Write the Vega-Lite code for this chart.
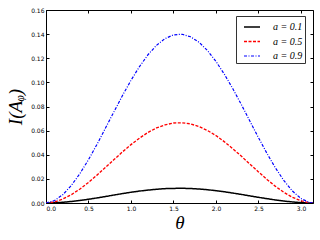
{
  "$schema": "https://vega.github.io/schema/vega-lite/v6.json",
  "width": 267,
  "height": 193,
  "autosize": {"type": "none"},
  "padding": {"left": 46, "top": 10, "right": 7, "bottom": 37},
  "background": "white",
  "config": {
    "view": {"stroke": "#000000", "strokeWidth": 1},
    "axis": {
      "grid": false,
      "domain": false,
      "tickColor": "#000000",
      "tickSize": -3,
      "tickWidth": 1,
      "labelFont": "DejaVu Sans",
      "labelFontSize": 6,
      "labelColor": "#000000",
      "titleColor": "#000000",
      "titleFont": "Liberation Serif",
      "titleFontStyle": "italic",
      "titleFontWeight": "normal"
    },
    "legend": {
      "orient": "none",
      "legendX": 190,
      "legendY": 6,
      "strokeColor": "#333333",
      "fillColor": "#ffffff",
      "padding": 2,
      "cornerRadius": 0,
      "symbolType": "stroke",
      "symbolSize": 256,
      "symbolOffset": 5,
      "labelFont": "Liberation Serif",
      "labelFontStyle": "italic",
      "labelFontSize": 10,
      "labelColor": "#000000",
      "labelOffset": 12,
      "rowPadding": 0.5
    }
  },
  "data": {
    "values": [
      {"t": 0.0, "a": "a = 0.1", "v": 0.0}, {"t": 0.1, "a": "a = 0.1", "v": 0.0002}, {"t": 0.2, "a": "a = 0.1", "v": 0.0006}, {"t": 0.3, "a": "a = 0.1", "v": 0.0013}, {"t": 0.4, "a": "a = 0.1", "v": 0.0021}, {"t": 0.5, "a": "a = 0.1", "v": 0.0031}, {"t": 0.6, "a": "a = 0.1", "v": 0.0042}, {"t": 0.7, "a": "a = 0.1", "v": 0.0054}, {"t": 0.8, "a": "a = 0.1", "v": 0.0066}, {"t": 0.9, "a": "a = 0.1", "v": 0.0078}, {"t": 1.0, "a": "a = 0.1", "v": 0.0089}, {"t": 1.1, "a": "a = 0.1", "v": 0.0099}, {"t": 1.2, "a": "a = 0.1", "v": 0.0107}, {"t": 1.3, "a": "a = 0.1", "v": 0.0114}, {"t": 1.4, "a": "a = 0.1", "v": 0.0119}, {"t": 1.5, "a": "a = 0.1", "v": 0.0121}, {"t": 1.6, "a": "a = 0.1", "v": 0.0122}, {"t": 1.7, "a": "a = 0.1", "v": 0.012}, {"t": 1.8, "a": "a = 0.1", "v": 0.0116}, {"t": 1.9, "a": "a = 0.1", "v": 0.011}, {"t": 2.0, "a": "a = 0.1", "v": 0.0102}, {"t": 2.1, "a": "a = 0.1", "v": 0.0093}, {"t": 2.2, "a": "a = 0.1", "v": 0.0082}, {"t": 2.3, "a": "a = 0.1", "v": 0.0071}, {"t": 2.4, "a": "a = 0.1", "v": 0.0059}, {"t": 2.5, "a": "a = 0.1", "v": 0.0047}, {"t": 2.6, "a": "a = 0.1", "v": 0.0036}, {"t": 2.7, "a": "a = 0.1", "v": 0.0025}, {"t": 2.8, "a": "a = 0.1", "v": 0.0016}, {"t": 2.9, "a": "a = 0.1", "v": 0.0009}, {"t": 3.0, "a": "a = 0.1", "v": 0.0003}, {"t": 3.1, "a": "a = 0.1", "v": 0.0}, {"t": 3.1416, "a": "a = 0.1", "v": 0.0},
      {"t": 0.0, "a": "a = 0.5", "v": 0.0}, {"t": 0.1, "a": "a = 0.5", "v": 0.0009}, {"t": 0.2, "a": "a = 0.5", "v": 0.0034}, {"t": 0.3, "a": "a = 0.5", "v": 0.007}, {"t": 0.4, "a": "a = 0.5", "v": 0.0116}, {"t": 0.5, "a": "a = 0.5", "v": 0.0171}, {"t": 0.6, "a": "a = 0.5", "v": 0.0231}, {"t": 0.7, "a": "a = 0.5", "v": 0.0295}, {"t": 0.8, "a": "a = 0.5", "v": 0.036}, {"t": 0.9, "a": "a = 0.5", "v": 0.0424}, {"t": 1.0, "a": "a = 0.5", "v": 0.0484}, {"t": 1.1, "a": "a = 0.5", "v": 0.0538}, {"t": 1.2, "a": "a = 0.5", "v": 0.0585}, {"t": 1.3, "a": "a = 0.5", "v": 0.0622}, {"t": 1.4, "a": "a = 0.5", "v": 0.0648}, {"t": 1.5, "a": "a = 0.5", "v": 0.0663}, {"t": 1.6, "a": "a = 0.5", "v": 0.0665}, {"t": 1.7, "a": "a = 0.5", "v": 0.0656}, {"t": 1.8, "a": "a = 0.5", "v": 0.0634}, {"t": 1.9, "a": "a = 0.5", "v": 0.0601}, {"t": 2.0, "a": "a = 0.5", "v": 0.0559}, {"t": 2.1, "a": "a = 0.5", "v": 0.0507}, {"t": 2.2, "a": "a = 0.5", "v": 0.0449}, {"t": 2.3, "a": "a = 0.5", "v": 0.0387}, {"t": 2.4, "a": "a = 0.5", "v": 0.0322}, {"t": 2.5, "a": "a = 0.5", "v": 0.0258}, {"t": 2.6, "a": "a = 0.5", "v": 0.0195}, {"t": 2.7, "a": "a = 0.5", "v": 0.0138}, {"t": 2.8, "a": "a = 0.5", "v": 0.0088}, {"t": 2.9, "a": "a = 0.5", "v": 0.0047}, {"t": 3.0, "a": "a = 0.5", "v": 0.0018}, {"t": 3.1, "a": "a = 0.5", "v": 0.0002}, {"t": 3.1416, "a": "a = 0.5", "v": 0.0},
      {"t": 0.0, "a": "a = 0.9", "v": 0.0}, {"t": 0.1, "a": "a = 0.9", "v": 0.002}, {"t": 0.2, "a": "a = 0.9", "v": 0.007}, {"t": 0.3, "a": "a = 0.9", "v": 0.0147}, {"t": 0.4, "a": "a = 0.9", "v": 0.0245}, {"t": 0.5, "a": "a = 0.9", "v": 0.0359}, {"t": 0.6, "a": "a = 0.9", "v": 0.0486}, {"t": 0.7, "a": "a = 0.9", "v": 0.0621}, {"t": 0.8, "a": "a = 0.9", "v": 0.0757}, {"t": 0.9, "a": "a = 0.9", "v": 0.0891}, {"t": 1.0, "a": "a = 0.9", "v": 0.1017}, {"t": 1.1, "a": "a = 0.9", "v": 0.1131}, {"t": 1.2, "a": "a = 0.9", "v": 0.1229}, {"t": 1.3, "a": "a = 0.9", "v": 0.1307}, {"t": 1.4, "a": "a = 0.9", "v": 0.1363}, {"t": 1.5, "a": "a = 0.9", "v": 0.1394}, {"t": 1.6, "a": "a = 0.9", "v": 0.1399}, {"t": 1.7, "a": "a = 0.9", "v": 0.1378}, {"t": 1.8, "a": "a = 0.9", "v": 0.1333}, {"t": 1.9, "a": "a = 0.9", "v": 0.1264}, {"t": 2.0, "a": "a = 0.9", "v": 0.1174}, {"t": 2.1, "a": "a = 0.9", "v": 0.1066}, {"t": 2.2, "a": "a = 0.9", "v": 0.0945}, {"t": 2.3, "a": "a = 0.9", "v": 0.0814}, {"t": 2.4, "a": "a = 0.9", "v": 0.0677}, {"t": 2.5, "a": "a = 0.9", "v": 0.0542}, {"t": 2.6, "a": "a = 0.9", "v": 0.0411}, {"t": 2.7, "a": "a = 0.9", "v": 0.029}, {"t": 2.8, "a": "a = 0.9", "v": 0.0185}, {"t": 2.9, "a": "a = 0.9", "v": 0.0099}, {"t": 3.0, "a": "a = 0.9", "v": 0.0037}, {"t": 3.1, "a": "a = 0.9", "v": 0.0004}, {"t": 3.1416, "a": "a = 0.9", "v": 0.0}
    ]
  },
  "layer": [
    {
      "mark": {"type": "line", "clip": true},
      "encoding": {
        "x": {
          "field": "t", "type": "quantitative",
          "scale": {"domain": [0, 3.1416], "nice": false, "zero": false},
          "axis": {"orient": "bottom", "values": [0, 0.5, 1, 1.5, 2, 2.5, 3], "format": ".1f", "title": "θ", "titleFontSize": 19, "labelPadding": 5, "titlePadding": 2}
        },
        "y": {
          "field": "v", "type": "quantitative",
          "scale": {"domain": [0, 0.16], "nice": false},
          "axis": {"orient": "left", "values": [0, 0.02, 0.04, 0.06, 0.08, 0.1, 0.12, 0.14, 0.16], "format": ".2f", "title": "I(Aᵩ)", "titleFontSize": 19, "labelPadding": 5, "titlePadding": 5}
        },
        "color": {
          "field": "a", "type": "nominal",
          "scale": {"domain": ["a = 0.1", "a = 0.5", "a = 0.9"], "range": ["#000000", "#ff0000", "#0000ff"]},
          "legend": {"title": null}
        },
        "strokeDash": {
          "field": "a", "type": "nominal",
          "scale": {"domain": ["a = 0.1", "a = 0.5", "a = 0.9"], "range": [[1, 0], [3, 1.5], [3, 1.5, 1, 1.5]]},
          "legend": {"title": null}
        },
        "strokeWidth": {
          "field": "a", "type": "nominal",
          "scale": {"domain": ["a = 0.1", "a = 0.5", "a = 0.9"], "range": [1.5, 1.2, 1.1]},
          "legend": {"title": null}
        }
      }
    },
    {
      "mark": {"type": "line", "opacity": 0},
      "encoding": {
        "x": {
          "field": "t", "type": "quantitative",
          "axis": {"orient": "top", "values": [0, 0.5, 1, 1.5, 2, 2.5, 3], "labels": false, "title": null}
        },
        "y": {
          "field": "v", "type": "quantitative",
          "axis": {"orient": "right", "values": [0, 0.02, 0.04, 0.06, 0.08, 0.1, 0.12, 0.14, 0.16], "labels": false, "title": null}
        },
        "detail": {"field": "a"}
      }
    }
  ],
  "resolve": {"axis": {"x": "independent", "y": "independent"}}
}
